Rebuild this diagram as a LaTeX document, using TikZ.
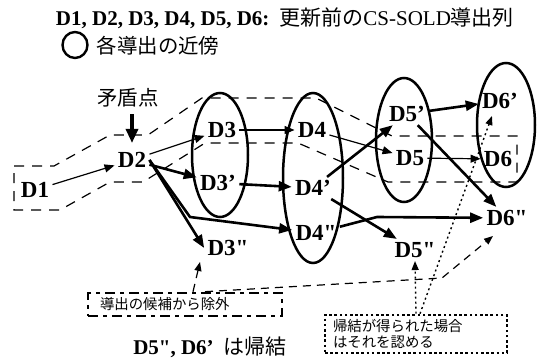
\documentclass[tikz,border=0pt]{standalone}
\usepackage{fontspec}
\setmainfont{Liberation Serif}[Ligatures=TeXOff]
\newfontfamily\jp{Noto Sans CJK JP}
\usetikzlibrary{arrows.meta,shapes.geometric}

\begin{document}
\begin{tikzpicture}[
    x=0.5pt, y=-0.5pt,
    deriv/.style={
        inner sep=1.5pt,
        font=\fontsize{11.5}{13}\selectfont\bfseries
    },
    nbhd/.style={
        ellipse,
        draw,
        line width=1.25pt,
        inner sep=0pt
    },
    band/.style={
        line width=0.6pt,
        dash pattern=on 5pt off 4pt
    },
    thinlink/.style={
        -{Triangle[length=5pt,width=4pt]},
        line width=0.6pt
    },
    thicklink/.style={
        -{Triangle[length=6.5pt,width=5pt]},
        line width=1.3pt
    },
    dashlink/.style={
        -{Triangle[length=4.5pt,width=3.5pt]},
        line width=0.6pt,
        dash pattern=on 4pt off 3pt
    },
    dotlink/.style={
        -{Triangle[length=4.5pt,width=3.5pt]},
        line width=0.7pt,
        dash pattern=on 1pt off 1.5pt
    },
    note/.style={
        draw,
        line width=1.3pt,
        align=left,
        inner ysep=1pt,
        font=\jp\fontsize{7.2}{7.6}\selectfont
    }
]
    \useasboundingbox (0,0) rectangle (542,363);

    % Legend
    \node[font=\fontsize{10.5}{12}\selectfont] (title) at (285,18)
        {\textbf{D1, D2, D3, D4, D5, D6:}\hspace{5pt}{\jp 更新前の}CS-SOLD{\jp 導出列}};
    \node[ellipse, draw, line width=1.2pt, inner sep=0pt,
        minimum width=12.5pt, minimum height=13pt] (legend) at (75,45) {};
    \node[font=\jp\fontsize{10.2}{12}\selectfont] (legendtext) at (158,46) {各導出の近傍};

    % Neighbourhoods
    \foreach \n/\x/\y/\w/\h in {3/220/155/28/62, 4/313/178/30/85,
                                 5/404/140/28/62, 6/506/125/29/62}
        \node[nbhd, minimum width=\w pt, minimum height=\h pt] (N\n) at (\x,\y) {};

    % CS-SOLD derivation before update
    \draw[band] (14,166) -- (54,166) -- (110,135) -- (148,135) -- (202,98)
        -- (316,98) -- (392,136) -- (517,136) -- (517,182) -- (388,182)
        -- (298,143) -- (205,143) -- (143,182) -- (110,182) -- (60,210)
        -- (14,210) -- cycle;

    % Derivations
    \node[deriv] (D1) at (35,190) {D1};
    \node[deriv] (D2) at (132,160) {D2};
    \node[deriv] (D3) at (222,130) {D3};
    \node[deriv] (D3p) at (218,183) {D3’};
    \node[deriv] (D3pp) at (228,248) {D3"};
    \node[deriv] (D4) at (312,130) {D4};
    \node[deriv] (D4p) at (313,188) {D4’};
    \node[deriv] (D4pp) at (316,233) {D4"};
    \node[deriv] (D5p) at (407,114) {D5’};
    \node[deriv] (D5) at (410,158) {D5};
    \node[deriv] (D5pp) at (415,250) {D5"};
    \node[deriv] (D6p) at (500,101) {D6’};
    \node[deriv] (D6) at (498,159) {D6};
    \node[deriv] (D6pp) at (507,218) {D6"};

    % Contradiction point
    \node[font=\jp\fontsize{10.2}{12}\selectfont] (conflict) at (128,98) {矛盾点};
    \draw[-{Triangle[length=7pt,width=6pt]}, line width=1.6pt, shorten >=3pt]
        (D2 |- conflict.south) -- (D2.north);

    % Connections
    \coordinate (b1) at (190,217);
    \coordinate (b2) at (377,217);

    \foreach \a/\b in {D1/D2, D2/D3, D3/D4, D4/D5, D5/D6}
        \draw[thinlink] (\a) -- (\b);

    \foreach \a/\b in {D2/D3p, D3p/D4p, D4p/D5p, D4p/D5pp, D5p/D6p, D5p/D6pp}
        \draw[thicklink] (\a) -- (\b);

    \draw[thicklink] (D2.east) -- (D3pp.west);
    \draw[thicklink] (D2.east) -- (b1) -- (D4pp);
    \draw[thicklink] (D4pp) -- (b2) -- (D6pp);

    % Notes
    \node[note, dash pattern=on 5pt off 2.5pt on 2pt off 2.5pt,
        inner xsep=6pt, text width=85pt, minimum height=11.5pt]
        (excl) at (185,304.5) {導出の候補から除外};
    \node[note, dash pattern=on 1.3pt off 1.3pt,
        inner xsep=4pt, text width=83pt, minimum height=19pt]
        (accept) at (416,334) {帰結が得られた場合\\はそれを認める};

    \coordinate (h3) at (200,262);
    \coordinate (b3) at (442,278);
    \coordinate (h6) at (493,236);
    \coordinate (h6p) at (492,116);

    \draw[dashlink] ([xshift=4pt]excl.north) -- (h3);
    \draw[dashlink] ([xshift=10pt]excl.north) -- (b3) -- (h6);
    \draw[dotlink] (accept.north) -- (D5pp.south);
    \draw[dotlink] ([xshift=2pt]accept.north) -- (h6p);

    % Conclusion
    \node[font=\fontsize{10.5}{12}\selectfont] (concl) at (210,347)
        {\textbf{D5", D6’}\hspace{5pt}{\jp は帰結}};

\end{tikzpicture}
\end{document}
